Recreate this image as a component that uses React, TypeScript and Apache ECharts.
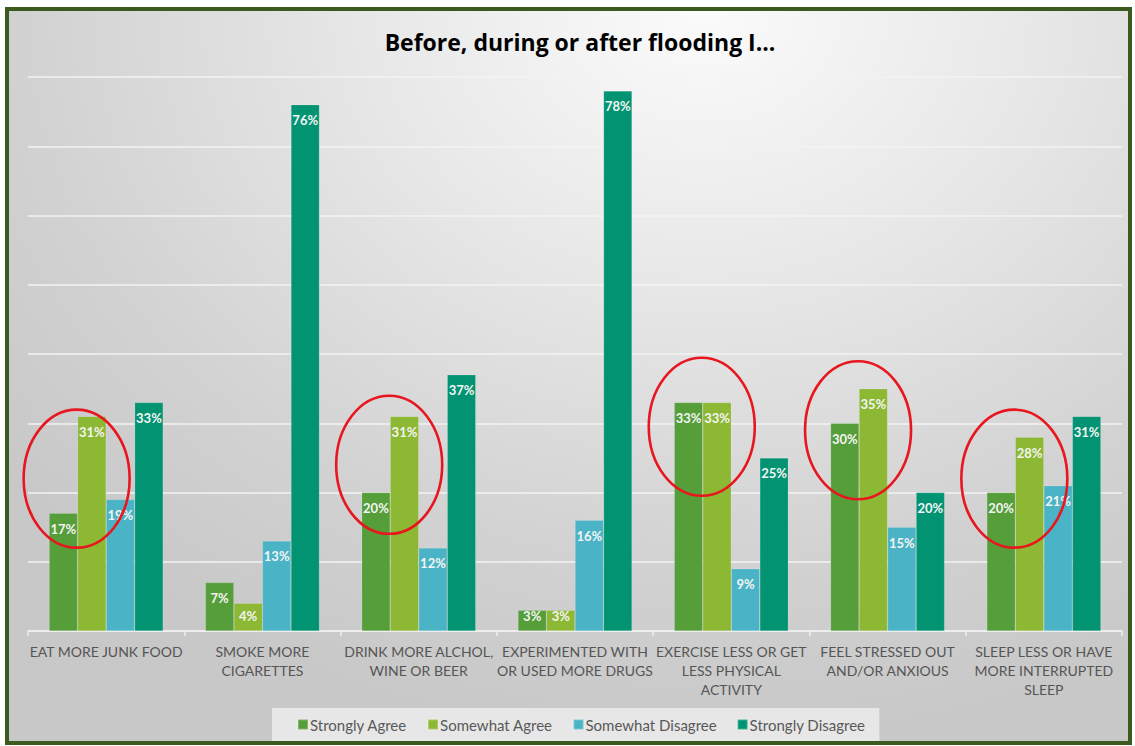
import React, { useEffect, useRef } from "react";
import * as echarts from "echarts";

// Survey responses, percent of respondents
const categories = [
  "EAT MORE JUNK FOOD",
  "SMOKE MORE\nCIGARETTES",
  "DRINK MORE ALCHOL,\nWINE OR BEER",
  "EXPERIMENTED WITH\nOR USED MORE DRUGS",
  "EXERCISE LESS OR GET\nLESS PHYSICAL\nACTIVITY",
  "FEEL STRESSED OUT\nAND/OR ANXIOUS",
  "SLEEP LESS OR HAVE\nMORE INTERRUPTED\nSLEEP",
];
const seriesNames = ["Strongly Agree", "Somewhat Agree", "Somewhat Disagree", "Strongly Disagree"];
const stronglyAgree = [17, 7, 20, 3, 33, 30, 20];
const somewhatAgree = [31, 4, 31, 3, 33, 35, 28];
const somewhatDisagree = [19, 13, 12, 16, 9, 15, 21];
const stronglyDisagree = [33, 76, 37, 78, 25, 20, 31];
const seriesColors = ["#559e3a", "#8cb834", "#4ab4c6", "#029472"];

// Categories whose "agree" pair is circled, and the value at each circle's centre
const circledCategories = [0, 2, 4, 5, 6];
const circleCenterValues = [22, 24, 29.5, 29, 22];

const CATEGORY_GAP = 0.27;

export default function App() {
  const ref = useRef<HTMLDivElement>(null);

  useEffect(() => {
    if (!ref.current) return;
    const chart = echarts.init(ref.current, undefined, { renderer: "svg" });
    const allValues = [stronglyAgree, somewhatAgree, somewhatDisagree, stronglyDisagree];
    const font = "Lato, 'Noto Sans', sans-serif";

    const series = allValues.map((vals, i) => ({
      name: seriesNames[i],
      type: "bar",
      barGap: "0%",
      barCategoryGap: CATEGORY_GAP * 100 + "%",
      itemStyle: { color: seriesColors[i], borderColor: "rgba(255,255,255,0.25)", borderWidth: 0.6 },
      data: vals.map((v) => ({
        value: v,
        label: v < 6 ? { position: "insideBottom", distance: 9 } : undefined,
      })),
      label: {
        show: true,
        position: "insideTop",
        distance: 9,
        color: "#f4f4f4",
        fontFamily: font,
        fontWeight: "bold",
        fontSize: 13,
        formatter: (p: any) => p.value + "%",
      },
    }));

    chart.setOption({
      animation: false,
      backgroundColor: "transparent",
      title: {
        text: "Before, during or after flooding I...",
        left: 575,
        textAlign: "center",
        top: 25,
        textStyle: {
          fontFamily: "'Open Sans', 'Noto Sans', sans-serif",
          fontWeight: "bold",
          fontSize: 23,
          color: "#000",
        },
      },
      legend: {
        data: seriesNames,
        left: 272,
        top: 708,
        itemWidth: 10,
        itemHeight: 10,
        itemGap: 20,
        padding: [9, 14, 9, 25],
        backgroundColor: "rgba(236,236,236,0.85)",
        icon: "rect",
        textStyle: { fontFamily: font, fontSize: 15, color: "#595959", padding: [0, 0, 0, -3] },
      },
      grid: { left: 28, right: 13, top: 77, bottom: 115, containLabel: false },
      xAxis: {
        type: "category",
        data: categories,
        axisLine: { lineStyle: { color: "#efefef", width: 1.5 } },
        axisTick: { show: true, length: 5, lineStyle: { color: "#efefef", width: 1.5 } },
        axisLabel: {
          interval: 0,
          margin: 11,
          fontFamily: font,
          fontSize: 14,
          lineHeight: 19,
          color: "#555555",
        },
      },
      yAxis: {
        type: "value",
        min: 0,
        max: 80,
        interval: 10,
        axisLabel: { show: false },
        axisLine: { show: false },
        axisTick: { show: false },
        splitLine: { lineStyle: { color: "#f3f3f3", width: 1.5 } },
      },
      series,
    });

    // Red circles around the two "agree" bars of selected categories
    const c0 = chart.convertToPixel({ xAxisIndex: 0, yAxisIndex: 0 }, [0, 0]) as number[];
    const c1 = chart.convertToPixel({ xAxisIndex: 0, yAxisIndex: 0 }, [1, 0]) as number[];
    const catWidth = c1[0] - c0[0];
    const barWidth = (catWidth * (1 - CATEGORY_GAP)) / 4;
    const ellipses = circledCategories.map((ci, k) => {
      const p = chart.convertToPixel({ xAxisIndex: 0, yAxisIndex: 0 }, [ci, circleCenterValues[k]]) as number[];
      return {
        type: "ellipse",
        shape: { cx: p[0] - barWidth - 1, cy: p[1], rx: 53, ry: 69 },
        style: { fill: "none", stroke: "#e8161e", lineWidth: 2.6 },
        z: 100,
      };
    });
    chart.setOption({ graphic: ellipses });

    return () => chart.dispose();
  }, []);

  return (
    <div style={{ position: "absolute", left: 0, top: 0, width: 1135, height: 746, background: "#fff" }}>
      <div
        style={{
          position: "absolute",
          left: 5,
          top: 7,
          width: 1127,
          height: 738,
          boxSizing: "border-box",
          border: "4px solid #3b5a1f",
          background:
            "radial-gradient(ellipse 80% 100% at 62% 0%, #fbfbfb 0%, #e6e6e6 40%, #d2d2d2 75%, #c8c8c8 100%)",
        }}
      />
      <div ref={ref} style={{ position: "absolute", left: 0, top: 0, width: 1135, height: 746 }} />
    </div>
  );
}
